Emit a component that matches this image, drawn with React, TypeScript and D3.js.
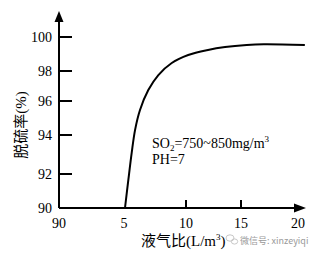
import React from "react";
import * as d3 from "d3";

const xTickValues = [0, 5, 10, 15, 20];
const xTickLabels = ["90", "5", "10", "15", "20"];
const yTickValues = [90, 92, 94, 96, 98, 100];
const ratioX = [5.08, 5.35, 5.62, 5.89, 6.29, 6.96, 7.77, 8.85, 10.2, 12, 13.55, 15.5, 17, 20.6];
const removalY = [90, 91.65, 93.08, 94.29, 95.47, 96.73, 97.73, 98.47, 98.94, 99.24, 99.41, 99.53, 99.57, 99.53];

const serif = "'Liberation Serif', 'DejaVu Serif', serif";
const cjk = "'Noto Sans CJK SC', sans-serif";

export default function App() {
  const x = d3.scaleLinear().domain([0, 5, 10, 15, 20]).range([59, 124, 186, 241, 298]);
  const y = d3.scaleLinear().domain([90, 92, 94, 96, 98, 100]).range([208, 174, 135, 101, 71, 37]);
  const pts: [number, number][] = ratioX.map((v, i) => [x(v), y(removalY[i])]);
  const line = d3.line<[number, number]>().x(d => d[0]).y(d => d[1]).curve(d3.curveCatmullRom.alpha(0.5));
  const x0 = x(0), y0 = y(90);
  return (
    <svg width={326} height={255} style={{ position: "absolute", left: 0, top: 0 }}>
      <rect width={326} height={255} fill="#fff" />
      {/* y axis */}
      <line x1={x0} y1={y0} x2={x0} y2={20} stroke="#000" strokeWidth={2} />
      <path d={`M${x0 - 4.5},22 L${x0},11 L${x0 + 4.5},22 Z`} fill="#000" />
      {yTickValues.map(v => (
        <g key={v}>
          {v !== 90 && <line x1={x0} x2={x0 + 13} y1={y(v)} y2={y(v)} stroke="#000" strokeWidth={2} />}
          <text x={52} y={y(v) + 5} textAnchor="end" fontFamily={serif} fontSize={14}>{v}</text>
        </g>
      ))}
      {/* x axis */}
      <line x1={x0} y1={y0} x2={296} y2={y0} stroke="#000" strokeWidth={2} />
      <path d={`M294,${y0 - 4.5} L306,${y0} L294,${y0 + 4.5} Z`} fill="#000" />
      {xTickValues.map((v, i) => (
        <g key={v}>
          {(v === 10 || v === 15) && <line x1={x(v)} x2={x(v)} y1={y0} y2={y0 - 8} stroke="#000" strokeWidth={2} />}
          <text x={x(v)} y={228} textAnchor="middle" fontFamily={serif} fontSize={14}>{xTickLabels[i]}</text>
        </g>
      ))}
      {/* curve */}
      <path d={line(pts) || ""} fill="none" stroke="#000" strokeWidth={2} />
      {/* annotation */}
      <text x={152} y={148} fontFamily={serif} fontSize={14}>
        SO<tspan fontSize={9} dy={3}>2</tspan><tspan dy={-3}>=750~850mg/m</tspan><tspan fontSize={9} dy={-6}>3</tspan>
      </text>
      <text x={152} y={164} fontFamily={serif} fontSize={14}>PH=7</text>
      {/* axis titles */}
      <text transform="translate(26,125) rotate(-90)" textAnchor="middle" fontSize={15}>
        <tspan fontFamily={cjk}>脱硫率</tspan><tspan fontFamily={serif}>(%)</tspan>
      </text>
      <text x={141} y={246} fontSize={15}>
        <tspan fontFamily={cjk}>液气比</tspan><tspan fontFamily={serif}>(L/m</tspan><tspan fontFamily={serif} fontSize={9} dy={-6}>3</tspan><tspan fontFamily={serif} dy={6}>)</tspan>
      </text>
      {/* watermark */}
      <g fill="none" stroke="#c8c8c8" strokeWidth={1}>
        <ellipse cx={230} cy={238} rx={4} ry={3.2} />
        <ellipse cx={234.5} cy={241.5} rx={3.2} ry={2.6} />
      </g>
      <text x={240} y={244} fontSize={9} fill="#999" fontFamily={cjk}>微信号: xinzeyiqi</text>
    </svg>
  );
}
